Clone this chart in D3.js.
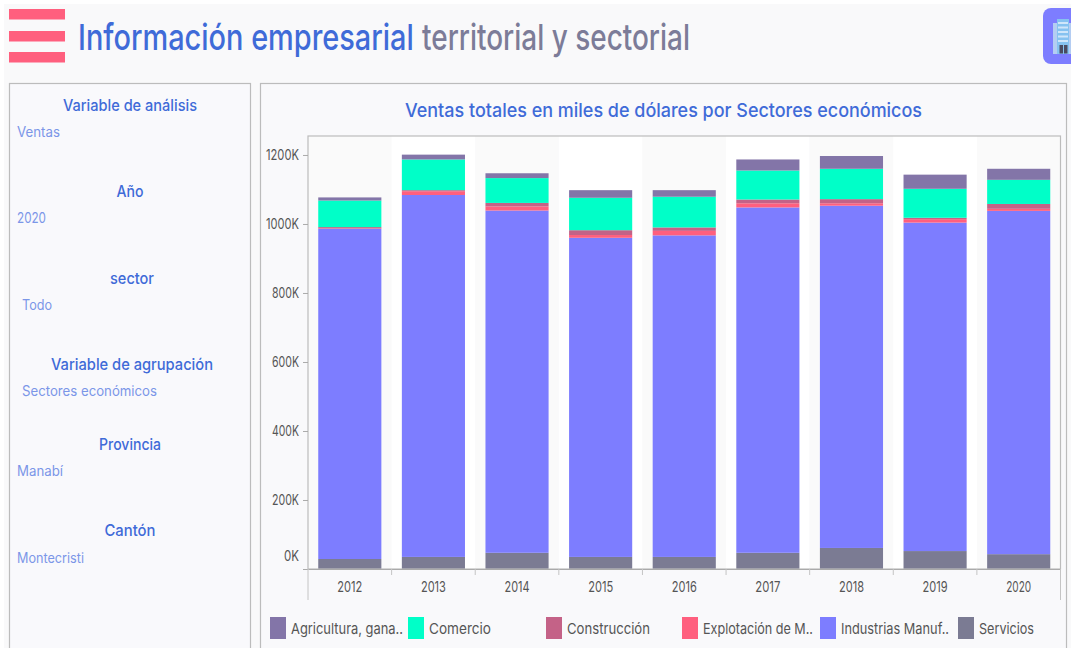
<!DOCTYPE html>
<html>
<head>
<meta charset="utf-8">
<script src="https://cdn.jsdelivr.net/npm/d3@7"></script>
<style>
    html, body { margin: 0; padding: 0; background: #fff; overflow: hidden; }
    text { font-family: Inter, "Noto Sans", sans-serif; }
</style>
</head>
<body>
<div id="box-div"></div>
<script>
// valores, en miles de dolares
const years = ['2012', '2013', '2014', '2015', '2016', '2017', '2018', '2019', '2020']
const servicios = [29, 35, 47, 35, 35, 47, 61, 52, 43]
const industrias = [957, 1049, 992, 925, 932, 1001, 992, 952, 995]
const explotacion = [1, 11, 12, 8, 13, 12, 7, 10, 6]
const construccion = [4, 3, 10, 14, 10, 11, 12, 4, 14]
const comercio = [77, 89, 72, 94, 89, 84, 88, 84, 70]
const agricultura = [9, 14, 14, 22, 19, 32, 37, 41, 32]

const yTicks = [0, 200, 400, 600, 800, 1000, 1200]

const legendLabels = ['Agricultura, gana..', 'Comercio', 'Construcción', 'Explotación de M..', 'Industrias Manuf..', 'Servicios']
const filterHeads = ['Variable de análisis', 'Año', 'sector', 'Variable de agrupación', 'Provincia', 'Cantón']
const filterValues = ['Ventas', '2020', 'Todo', 'Sectores económicos', 'Manabí', 'Montecristi']

let dms = {
    width: 1071,
    height: 648,
    plot: { left: 308, right: 1060.5, top: 136, bottom: 569 }
}

const colors = {
    agricultura: '#8375a8',
    comercio: '#00ffc8',
    construccion: '#c46287',
    explotacion: '#ff5f7e',
    industrias: '#7d7dff',
    servicios: '#7b7b93'
}
const blue = '#3f6bd8'
const lightBlue = '#7b96e8'
const grey = '#7c7c98'
const axisColor = '#555'

const box = d3.select('#box-div').append('svg')
    .attr('id', 'box')
    .attr('width', dms.width)
    .attr('height', dms.height)
    .style('display', 'block')

// texto ajustado al ancho medido en la imagen
const label = (parent, str, x, y, size, color, len, anchor = 'start') => parent.append('text')
    .attr('x', x)
    .attr('y', y)
    .attr('font-size', size)
    .attr('fill', color)
    .attr('text-anchor', anchor)
    .attr('textLength', len)
    .attr('lengthAdjust', 'spacingAndGlyphs')
    .text(str)

// igual que label, pero encogiendo con una escala en x
const squeezed = (parent, str, x, y, size, color, len) => {
    const t = parent.append('text')
        .attr('font-size', size)
        .attr('font-weight', 500)
        .attr('fill', color)
        .text(str)
    t.attr('transform', `translate(${x}, ${y}) scale(${len / t.node().getComputedTextLength()}, 1)`)
    return t
}

box.append('rect')
    .attr('x', 4).attr('y', 4)
    .attr('width', dms.width - 4).attr('height', dms.height)
    .attr('fill', '#f9f9fa')

// cabecera
const header = box.append('g').attr('id', 'header')
header.selectAll('rect')
    .data([9, 31, 52])
    .join('rect')
    .attr('x', 9).attr('y', d => d)
    .attr('width', 56).attr('height', 10.5)
    .attr('fill', colors.explotacion)
squeezed(header, 'Información empresarial', 78, 50, 36, blue, 336)
squeezed(header, 'territorial y sectorial', 422, 50, 36, grey, 268)

// icono del edificio
const icon = box.append('g').attr('id', 'icon')
icon.append('rect')
    .attr('x', 1043).attr('y', 8)
    .attr('width', 50).attr('height', 56)
    .attr('rx', 8)
    .attr('fill', colors.industrias)
icon.append('rect').attr('x', 1053).attr('y', 23).attr('width', 18).attr('height', 31).attr('fill', '#b4cdf2')
icon.append('rect').attr('x', 1057).attr('y', 19).attr('width', 12).attr('height', 35).attr('fill', '#86c2f0')
icon.selectAll('.floor')
    .data(d3.range(5))
    .join('rect')
    .attr('class', 'floor')
    .attr('x', 1058).attr('y', d => 22 + d * 4.5)
    .attr('width', 10).attr('height', 2)
    .attr('fill', '#cfe6fa')
icon.selectAll('.door')
    .data([1059.5, 1064])
    .join('rect')
    .attr('class', 'door')
    .attr('x', d => d).attr('y', 45)
    .attr('width', 3.5).attr('height', 8.5)
    .attr('fill', '#4a4a60')

// paneles
box.append('rect')
    .attr('x', 9.5).attr('y', 83.5)
    .attr('width', 241).attr('height', 600)
    .attr('fill', '#f9f9fc').attr('stroke', '#bcbcbc').attr('stroke-width', 1.2)
box.append('rect')
    .attr('x', 260.5).attr('y', 83.5)
    .attr('width', 806).attr('height', 600)
    .attr('fill', '#f9f9fb').attr('stroke', '#bcbcbc').attr('stroke-width', 1.2)

// filtros de la izquierda
const sidebar = box.append('g').attr('id', 'sidebar')
const headX = [130, 130, 132, 132, 130, 130]
const headY = [110.5, 197, 284, 370, 450, 536]
const headW = [134, 27, 44, 162, 62, 51]
const valueX = [17, 17, 22, 22, 17, 17]
const valueY = [137, 223, 310, 396, 476, 563]
const valueW = [43, 29, 30, 135, 46, 67]
filterHeads.forEach((d, i) => {
    label(sidebar, d, headX[i], headY[i], 16, blue, headW[i], 'middle').attr('font-weight', 500)
    label(sidebar, filterValues[i], valueX[i], valueY[i], 14, lightBlue, valueW[i])
})

label(box, 'Ventas totales en miles de dólares por Sectores económicos', 663.5, 116.5, 19, blue, 517, 'middle')
    .attr('font-weight', 500)

// escalas
const xScale = d3.scaleBand()
    .domain(years)
    .range([dms.plot.left, dms.plot.right])
    .paddingInner(0.245)
    .paddingOuter(0.1225)

const yScale = d3.scaleLinear()
    .domain([0, 1255])
    .range([dms.plot.bottom, dms.plot.top])

// bandas alternas del fondo
box.append('g').attr('id', 'stripes')
    .selectAll('rect')
    .data(years)
    .join('rect')
    .attr('x', d => xScale(d) - xScale.step() * 0.1225)
    .attr('y', dms.plot.top)
    .attr('width', xScale.step())
    .attr('height', dms.plot.bottom - dms.plot.top)
    .attr('fill', (d, i) => i % 2 ? '#ffffff' : '#fafafa')

const keys = ['servicios', 'industrias', 'explotacion', 'construccion', 'comercio', 'agricultura']
const table = years.map((y, i) => ({
    year: y,
    servicios: servicios[i],
    industrias: industrias[i],
    explotacion: explotacion[i],
    construccion: construccion[i],
    comercio: comercio[i],
    agricultura: agricultura[i]
}))

box.append('g').attr('id', 'bar-area')
    .selectAll('g')
    .data(d3.stack().keys(keys)(table))
    .join('g')
    .attr('fill', d => colors[d.key])
    .selectAll('rect')
    .data(d => d)
    .join('rect')
    .attr('x', d => xScale(d.data.year))
    .attr('y', d => yScale(d[1]))
    .attr('width', xScale.bandwidth())
    .attr('height', d => yScale(d[0]) - yScale(d[1]))

// marco del grafico
box.append('rect')
    .attr('x', dms.plot.left).attr('y', dms.plot.top)
    .attr('width', dms.plot.right - dms.plot.left)
    .attr('height', dms.plot.bottom - dms.plot.top)
    .attr('fill', 'none').attr('stroke', '#bcbcbc').attr('stroke-width', 1.2)

// eje y
const yAxis = box.append('g')
    .attr('class', 'axis')
    .attr('transform', `translate(${dms.plot.left}, 0)`)
    .call(d3.axisLeft(yScale).tickValues(yTicks).tickFormat(d => d + 'K').tickSize(5).tickPadding(4))
yAxis.select('.domain').remove()
yAxis.selectAll('line').attr('stroke', '#aaa')
yAxis.selectAll('text')
    .attr('font-size', 15)
    .attr('font-family', null)
    .attr('fill', axisColor)
    .attr('textLength', d => d === 0 ? 15 : d >= 1000 ? 33 : 27)
    .attr('lengthAdjust', 'spacingAndGlyphs')
// la etiqueta 0K sube para no salirse del marco
yAxis.selectAll('.tick').filter(d => d === 0).select('text').attr('dy', '-0.55em')

// eje x
const xAxis = box.append('g')
    .attr('class', 'axis')
    .attr('transform', `translate(0, ${dms.plot.bottom})`)
    .call(d3.axisBottom(xScale).tickSize(0).tickPadding(12))
xAxis.select('.domain').attr('stroke', '#aaa').attr('stroke-width', 1.2)
xAxis.selectAll('text')
    .attr('font-size', 15)
    .attr('font-family', null)
    .attr('fill', axisColor)
    .attr('textLength', 25)
    .attr('lengthAdjust', 'spacingAndGlyphs')
const boundaries = years.map(d => xScale(d) - xScale.step() * 0.1225).concat(dms.plot.right)
xAxis.selectAll('.sep')
    .data(boundaries)
    .join('line')
    .attr('class', 'sep')
    .attr('x1', d => d).attr('x2', d => d)
    .attr('y1', 0).attr('y2', (d, i) => i === 0 || i === years.length ? 31 : 6)
    .attr('stroke', '#c4c4c4')

// leyenda
const legendKeys = ['agricultura', 'comercio', 'construccion', 'explotacion', 'industrias', 'servicios']
const legendX = [270, 408, 546, 682, 820, 958]
const legendW = [112, 62, 83, 110, 108, 55]
const legend = box.append('g').attr('id', 'legend')
legendKeys.forEach((k, i) => {
    legend.append('rect')
        .attr('x', legendX[i]).attr('y', 617)
        .attr('width', 16).attr('height', 22)
        .attr('fill', colors[k])
    label(legend, legendLabels[i], legendX[i] + 21, 634, 15, axisColor, legendW[i])
})
</script>
</body>
</html>
